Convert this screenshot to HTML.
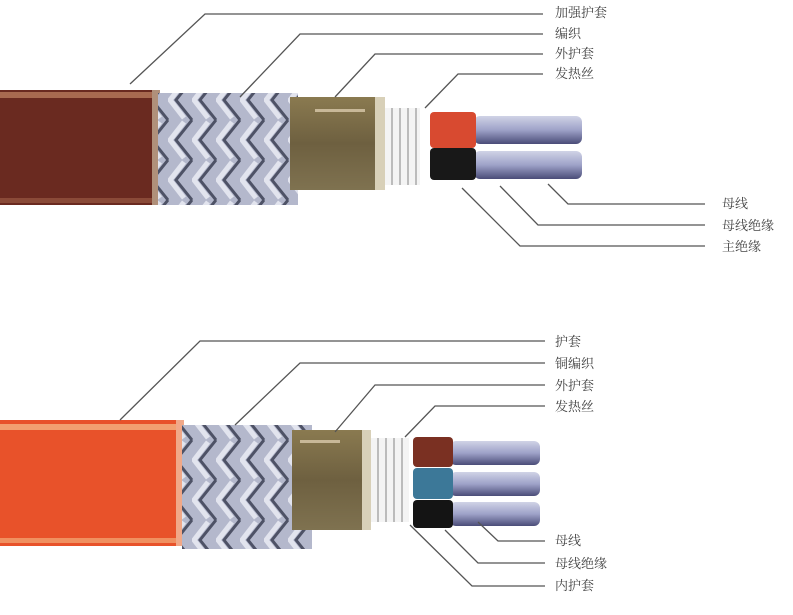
<!DOCTYPE html>
<html><head><meta charset="utf-8"><style>
html,body{margin:0;padding:0;background:#fff;}
svg{display:block}
text{font-family:"Liberation Serif","Noto Serif CJK SC",serif;font-size:13px;fill:#444;}
</style></head><body>
<svg width="793" height="615" viewBox="0 0 793 615" xmlns="http://www.w3.org/2000/svg">
<defs>
<pattern id="br" width="24" height="40" patternUnits="userSpaceOnUse">
<rect width="24" height="40" fill="#b4b8cc"/>
<path d="M24 0 L8 20 L24 40 M0 0 L-16 20 L0 40" stroke="#4e5266" stroke-width="3" fill="none"/>
<path d="M16 2 L2 20 L16 38" stroke="#e2e4ee" stroke-width="5" fill="none"/>
</pattern>
<linearGradient id="cond" x1="0" y1="0" x2="0" y2="1">
<stop offset="0" stop-color="#d0d3e6"/><stop offset="0.5" stop-color="#9ea2c8"/><stop offset="1" stop-color="#4a4c78"/>
</linearGradient>
<linearGradient id="olive" x1="0" y1="0" x2="0" y2="1">
<stop offset="0" stop-color="#8a7a50"/><stop offset="0.5" stop-color="#6e6040"/><stop offset="1" stop-color="#7f7250"/>
</linearGradient>
</defs>

<!-- TOP CABLE -->
<rect x="0" y="90" width="160" height="115" fill="#6a2a20"/>
<rect x="0" y="92" width="160" height="6" fill="#a86a50"/>
<rect x="0" y="198" width="160" height="5" fill="#8a4a38"/>
<rect x="152" y="90" width="8" height="115" fill="#b0907a"/>
<rect x="158" y="93" width="140" height="112" fill="url(#br)"/>
<rect x="290" y="97" width="95" height="93" fill="url(#olive)"/>
<rect x="315" y="109" width="50" height="3" fill="#c8b898"/>
<rect x="375" y="97" width="10" height="93" fill="#d8d0b8"/>
<rect x="385" y="108" width="35" height="77" fill="#f4f4f4"/>
<g stroke="#aaa" stroke-width="1.5"><line x1="392" y1="108" x2="392" y2="185"/><line x1="400" y1="108" x2="400" y2="185"/><line x1="408" y1="108" x2="408" y2="185"/><line x1="416" y1="108" x2="416" y2="185"/></g>
<rect x="474" y="116" width="108" height="28" rx="6" fill="url(#cond)"/>
<rect x="474" y="151" width="108" height="28" rx="6" fill="url(#cond)"/>
<rect x="430" y="112" width="46" height="36" rx="4" fill="#d84a30"/>
<rect x="430" y="148" width="46" height="32" rx="4" fill="#181818"/>

<g stroke="#555" stroke-width="1.3" fill="none">
<polyline points="130,84 205,14 543,14"/>
<polyline points="240,97 300,34 543,34"/>
<polyline points="335,97 375,54 543,54"/>
<polyline points="425,108 458,74 543,74"/>
<polyline points="548,184 568,204 705,204"/>
<polyline points="500,186 538,225 705,225"/>
<polyline points="462,188 520,246 705,246"/>
</g>
<text x="555" y="17">加强护套</text>
<text x="555" y="38">编织</text>
<text x="555" y="58">外护套</text>
<text x="555" y="78">发热丝</text>
<text x="722" y="208">母线</text>
<text x="722" y="230">母线绝缘</text>
<text x="722" y="251">主绝缘</text>

<!-- BOTTOM CABLE -->
<rect x="0" y="420" width="183" height="126" fill="#e8522a"/>
<rect x="0" y="424" width="183" height="6" fill="#f2a070"/>
<rect x="0" y="538" width="183" height="5" fill="#f09060"/>
<rect x="176" y="420" width="8" height="126" fill="#f0a888"/>
<rect x="182" y="425" width="130" height="124" fill="url(#br)"/>
<rect x="292" y="430" width="78" height="100" fill="url(#olive)"/>
<rect x="300" y="440" width="40" height="3" fill="#c8b898"/>
<rect x="362" y="430" width="9" height="100" fill="#d8d0b8"/>
<rect x="371" y="438" width="38" height="84" fill="#f4f4f4"/>
<g stroke="#aaa" stroke-width="1.5"><line x1="378" y1="438" x2="378" y2="522"/><line x1="386" y1="438" x2="386" y2="522"/><line x1="394" y1="438" x2="394" y2="522"/><line x1="402" y1="438" x2="402" y2="522"/></g>
<rect x="450" y="441" width="90" height="24" rx="6" fill="url(#cond)"/>
<rect x="450" y="472" width="90" height="24" rx="6" fill="url(#cond)"/>
<rect x="450" y="502" width="90" height="24" rx="6" fill="url(#cond)"/>
<rect x="413" y="437" width="40" height="30" rx="4" fill="#7a3022"/>
<rect x="413" y="468" width="40" height="31" rx="4" fill="#3c7898"/>
<rect x="413" y="500" width="40" height="28" rx="4" fill="#141414"/>

<g stroke="#555" stroke-width="1.3" fill="none">
<polyline points="120,420 200,341 545,341"/>
<polyline points="235,425 300,363 545,363"/>
<polyline points="335,432 375,385 545,385"/>
<polyline points="405,437 435,406 545,406"/>
<polyline points="478,522 498,541 545,541"/>
<polyline points="445,530 478,563 545,563"/>
<polyline points="410,525 472,586 545,586"/>
</g>
<text x="555" y="346">护套</text>
<text x="555" y="368">铜编织</text>
<text x="555" y="390">外护套</text>
<text x="555" y="411">发热丝</text>
<text x="555" y="545">母线</text>
<text x="555" y="568">母线绝缘</text>
<text x="555" y="590">内护套</text>
</svg>
</body></html>
